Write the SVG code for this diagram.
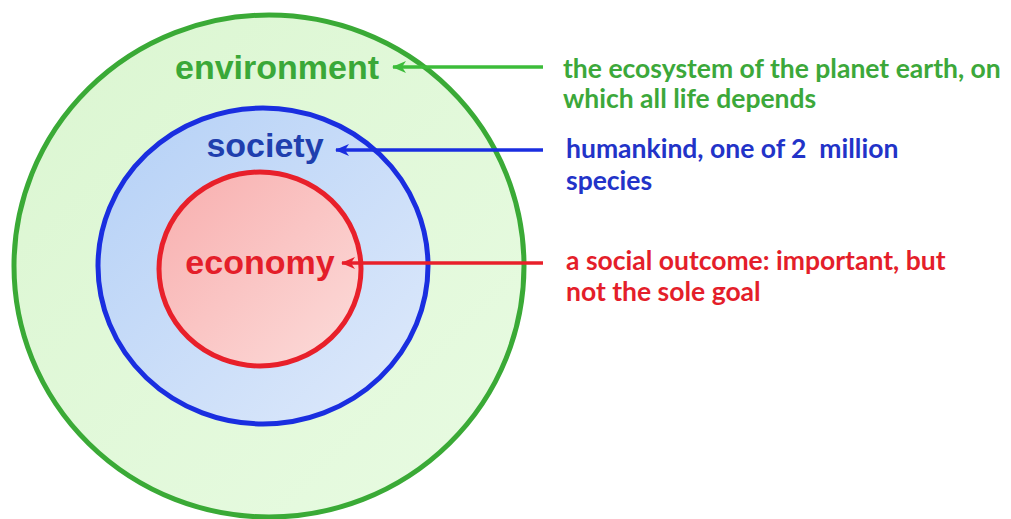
<svg xmlns="http://www.w3.org/2000/svg" width="1011" height="519" viewBox="0 0 1011 519">
<defs>
<linearGradient id="gGreen" x1="0" y1="0" x2="1" y2="1">
<stop offset="0" stop-color="#dbf6d1"/>
<stop offset="1" stop-color="#e8fbe2"/>
</linearGradient>
<linearGradient id="gBlue" x1="0" y1="0" x2="1" y2="1">
<stop offset="0" stop-color="#b4d0f6"/>
<stop offset="1" stop-color="#dfeafb"/>
</linearGradient>
<linearGradient id="gRed" x1="0" y1="0" x2="1" y2="1">
<stop offset="0" stop-color="#f8aeae"/>
<stop offset="1" stop-color="#fcdcda"/>
</linearGradient>
<marker id="aG" viewBox="0 0 14 12" refX="13" refY="6" markerWidth="14" markerHeight="12" markerUnits="userSpaceOnUse" orient="auto"><path d="M0,0 L14,6 L0,12 L4,6 Z" fill="#3cbc3a"/></marker>
<marker id="aB" viewBox="0 0 14 12" refX="13" refY="6" markerWidth="14" markerHeight="12" markerUnits="userSpaceOnUse" orient="auto"><path d="M0,0 L14,6 L0,12 L4,6 Z" fill="#1a2ee0"/></marker>
<marker id="aR" viewBox="0 0 14 12" refX="13" refY="6" markerWidth="14" markerHeight="12" markerUnits="userSpaceOnUse" orient="auto"><path d="M0,0 L14,6 L0,12 L4,6 Z" fill="#e8202a"/></marker>
</defs>
<style>
.ring{stroke-width:5}
.lbl{font-family:"Liberation Sans",Arial,sans-serif;font-weight:bold;font-size:34px;text-anchor:middle}
.desc{font-family:Lato,"Open Sans",sans-serif;font-weight:bold;font-size:26.5px;white-space:pre}
.conn{stroke-width:3.5;fill:none}
</style>
<rect width="1011" height="519" fill="#ffffff"/>
<g id="environment">
<ellipse cx="269" cy="266" rx="255" ry="251" fill="url(#gGreen)" stroke="#3aaa36" class="ring"/>
<text x="277" y="79" class="lbl" fill="#3aa838">environment</text>
</g>
<g id="society">
<ellipse cx="263" cy="266" rx="165" ry="158" fill="url(#gBlue)" stroke="#1a2ee0" class="ring"/>
<text x="265" y="157" class="lbl" fill="#1f3fae">society</text>
</g>
<g id="economy">
<ellipse cx="260" cy="269" rx="101" ry="97" fill="url(#gRed)" stroke="#e8202a" class="ring"/>
<text x="260" y="274" class="lbl" fill="#e41e2a">economy</text>
</g>
<g id="connectors">
<line x1="543" y1="67" x2="393" y2="67" stroke="#3cbc3a" class="conn" marker-end="url(#aG)"/>
<line x1="543" y1="150" x2="336" y2="150" stroke="#1a2ee0" class="conn" marker-end="url(#aB)"/>
<line x1="543" y1="263" x2="342" y2="263" stroke="#e8202a" class="conn" marker-end="url(#aR)"/>
</g>
<g id="desc-environment">
<text x="563" y="78" class="desc" fill="#3ca83a">the ecosystem of the planet earth, on</text>
<text x="563" y="108" class="desc" fill="#3ca83a">which all life depends</text>
</g>
<g id="desc-society">
<text x="566" y="158" class="desc" fill="#2233c8" xml:space="preserve">humankind, one of 2  million</text>
<text x="566" y="190" class="desc" fill="#2233c8">species</text>
</g>
<g id="desc-economy">
<text x="566" y="270" class="desc" fill="#e41e2a">a social outcome: important, but</text>
<text x="566" y="301" class="desc" fill="#e41e2a">not the sole goal</text>
</g>
</svg>
